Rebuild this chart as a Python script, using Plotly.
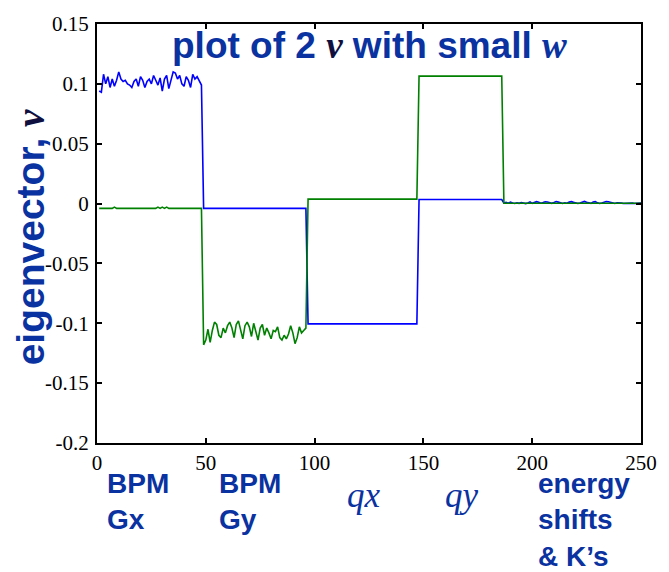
import numpy as np
import plotly.graph_objects as go

# Eigenvector components, grouped by block of the response matrix
bpm_gx_blue = [0.094, 0.093, 0.108, 0.100, 0.106, 0.097, 0.104, 0.098, 0.103, 0.110,
               0.104, 0.102, 0.103, 0.100, 0.099, 0.097, 0.102, 0.104, 0.098, 0.106,
               0.103, 0.097, 0.102, 0.104, 0.100, 0.107, 0.103, 0.099, 0.105, 0.094,
               0.104, 0.107, 0.096, 0.104, 0.110, 0.109, 0.104, 0.107, 0.100, 0.098,
               0.106, 0.103, 0.097, 0.108, 0.104, 0.106, 0.102, 0.099]
bpm_gx_green = [-0.004, -0.004, -0.004, -0.004, -0.004, -0.004, -0.004, -0.003, -0.004, -0.004,
                -0.004, -0.004, -0.004, -0.004, -0.004, -0.004, -0.004, -0.004, -0.004, -0.004,
                -0.004, -0.004, -0.004, -0.004, -0.004, -0.004, -0.004, -0.003, -0.004, -0.003,
                -0.004, -0.003, -0.004, -0.004, -0.004, -0.004, -0.004, -0.004, -0.004, -0.004,
                -0.004, -0.004, -0.004, -0.004, -0.004, -0.004, -0.004, -0.004]

bpm_gy_blue = [-0.004] * 48
bpm_gy_green = [-0.118, -0.114, -0.105, -0.116, -0.106, -0.099, -0.101, -0.110, -0.112, -0.104,
                -0.108, -0.102, -0.099, -0.104, -0.112, -0.101, -0.098, -0.105, -0.113, -0.102,
                -0.099, -0.103, -0.111, -0.100, -0.106, -0.114, -0.104, -0.101, -0.110, -0.104,
                -0.108, -0.113, -0.106, -0.107, -0.103, -0.112, -0.114, -0.110, -0.113, -0.109,
                -0.102, -0.108, -0.117, -0.112, -0.103, -0.108, -0.106, -0.104]

qx_blue = [-0.1005] * 51
qx_green = [0.0037] * 51

qy_blue = [0.0034] * 39
qy_green = [0.1065] * 39

energy_blue = [0.0005, 0.0010, 0.0003, 0.0012, 0.0004, 0.0001, 0.0006, 0.0002, 0.0009, 0.0003,
               0.0000, 0.0005, 0.0014, 0.0002, 0.0007, 0.0016, 0.0011, 0.0003, 0.0008, 0.0015,
               0.0013, 0.0004, 0.0002, 0.0009, 0.0017, 0.0012, 0.0005, 0.0001, 0.0006, 0.0003,
               0.0012, 0.0016, 0.0010, 0.0003, 0.0001, 0.0005, 0.0014, 0.0018, 0.0011, 0.0004,
               0.0002, 0.0013, 0.0016, 0.0006, 0.0001, 0.0004, 0.0012, 0.0017, 0.0015, 0.0009,
               0.0003, 0.0001, 0.0006, 0.0002, 0.0004, 0.0001, 0.0003, 0.0005, 0.0002, 0.0004,
               0.0001, 0.0003, 0.0002, 0.0004]
energy_green = [0.0003] * 64

blue = bpm_gx_blue + bpm_gy_blue + qx_blue + qy_blue + energy_blue
green = bpm_gx_green + bpm_gy_green + qx_green + qy_green + energy_green
index = list(range(1, len(blue) + 1))

x_ticks = [0, 50, 100, 150, 200, 250]
y_ticks = [0.15, 0.1, 0.05, 0, -0.05, -0.1, -0.15, -0.2]
y_tick_text = ["0.15", "0.1", "0.05", "0", "-0.05", "-0.1", "-0.15", "-0.2"]

TXT = "#0a32a0"
SANS = "Liberation Sans"
SERIF = "Liberation Serif"

fig = go.Figure()
fig.add_trace(go.Scatter(x=index, y=blue, mode="lines",
                         line=dict(color="#0000ff", width=1.6), showlegend=False))
fig.add_trace(go.Scatter(x=index, y=green, mode="lines",
                         line=dict(color="#008000", width=1.6), showlegend=False))

axis_common = dict(showline=True, linecolor="black", linewidth=2, mirror="ticks",
                   ticks="inside", ticklen=5, tickwidth=1.5, tickcolor="black",
                   showgrid=False, zeroline=False,
                   tickfont=dict(family=SERIF, size=21, color="black"))

fig.update_xaxes(range=[0, 250], tickvals=x_ticks, **axis_common)
fig.update_yaxes(range=[-0.2, 0.15], tickvals=y_ticks, ticktext=y_tick_text,
                 ticklabelstandoff=2, **axis_common)


def v_sym(ch):
    return (f"<span style='font-family:{SERIF};color:#101040'><b><i>{ch}</i></b></span>")


def serif_italic(txt):
    return f"<span style='font-family:{SERIF}'><b><i>{txt}</i></b></span>"


annotations = [
    dict(text=f"<b>plot of 2 </b>{v_sym('v')}<b> with small </b>{serif_italic('w')}",
         x=(369 - 97) / 544, y=0.948, xanchor="center", yanchor="middle",
         font=dict(family=SANS, size=37, color=TXT)),
    dict(text=f"<b>eigenvector, </b>{v_sym('v')}", textangle=-90,
         x=-0.122, y=0.49, xanchor="center", yanchor="middle",
         font=dict(family=SANS, size=39, color=TXT)),
    dict(text="<b>BPM<br>Gx</b>", x=(105 - 97) / 544, y=-0.055, xanchor="left", yanchor="top",
         align="left", font=dict(family=SANS, size=28, color=TXT)),
    dict(text="<b>BPM<br>Gy</b>", x=(217 - 97) / 544, y=-0.055, xanchor="left", yanchor="top",
         align="left", font=dict(family=SANS, size=28, color=TXT)),
    dict(text="<i>qx</i>", x=(345 - 97) / 544, y=(443 - 497) / 430, xanchor="left", yanchor="middle",
         font=dict(family=SERIF, size=35, color=TXT)),
    dict(text="<i>qy</i>", x=(443 - 97) / 544, y=(443 - 497) / 430, xanchor="left", yanchor="middle",
         font=dict(family=SERIF, size=35, color=TXT)),
    dict(text="<b>energy<br>shifts<br>& K’s</b>", x=(536 - 97) / 544, y=-0.055,
         xanchor="left", yanchor="top", align="left",
         font=dict(family=SANS, size=28, color=TXT)),
]
for a in annotations:
    a.update(xref="paper", yref="paper", showarrow=False)
fig.update_layout(annotations=annotations)

fig.update_layout(width=669, height=572, margin=dict(l=97, r=28, t=13, b=129),
                  plot_bgcolor="white", paper_bgcolor="white")

fig.write_html("out.html")
